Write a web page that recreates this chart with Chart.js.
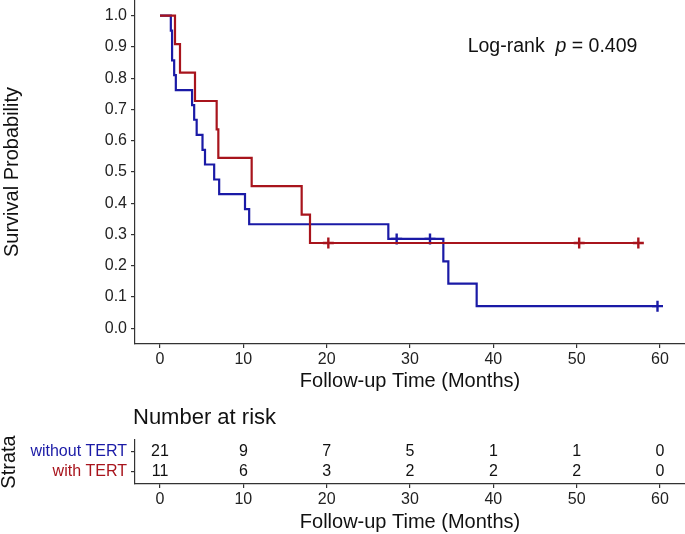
<!DOCTYPE html>
<html>
<head>
<meta charset="utf-8">
<script src="https://cdn.jsdelivr.net/npm/chart.js@4"></script>
<style>
  body { margin: 0; background: #fff; }
  canvas { position: absolute; left: 0; }
  #km { top: 0; }
  #risk { top: 400px; }
</style>
</head>
<body>
<canvas id="km" width="685" height="400"></canvas>
<canvas id="risk" width="685" height="134"></canvas>
<script>
// KM steps: time (months) at which the curve drops, and survival after the drop
const withoutTime = [0, 1.3, 1.45, 1.7, 1.9, 3.85, 4.1, 4.4, 5.1, 5.4, 6.5, 7.1, 10.2, 10.7, 27.4, 34.0, 34.6, 38.0, 59.7];
const withoutSurv = [1.0, 0.952, 0.857, 0.810, 0.762, 0.714, 0.667, 0.619, 0.571, 0.524, 0.476, 0.429, 0.381, 0.333, 0.286, 0.214, 0.143, 0.071, 0.071];
const withTime = [0, 1.8, 2.4, 4.2, 6.8, 7.0, 11.0, 17.0, 18.0, 57.4];
const withSurv = [1.0, 0.909, 0.818, 0.727, 0.636, 0.545, 0.455, 0.364, 0.273, 0.273];

// censored observations (+ marks)
const withoutCensTime = [28.4, 32.4, 59.7];
const withoutCensSurv = [0.286, 0.286, 0.071];
const withCensTime = [20.2, 50.3, 57.4];
const withCensSurv = [0.273, 0.273, 0.273];

// number at risk table
const strata = ["without TERT", "with TERT"];
const riskTimes = [0, 10, 20, 30, 40, 50, 60];
const riskWithout = [21, 9, 7, 5, 1, 1, 0];
const riskWith = [11, 6, 3, 2, 2, 2, 0];

const xTicks = [0, 10, 20, 30, 40, 50, 60];
const yTicks = [0, 0.1, 0.2, 0.3, 0.4, 0.5, 0.6, 0.7, 0.8, 0.9, 1.0];
const pValue = "0.409";

const BLUE = "#1a1aa6";
const RED = "#a8141c";
const AXIS = "#333333";
const FONT = "'Liberation Sans', Arial, sans-serif";

const pts = (xs, ys) => xs.map((x, i) => ({ x: x, y: ys[i] }));

const axisBase = {
  border: { display: true, color: AXIS, width: 1.2 },
  grid: { drawOnChartArea: false, drawTicks: true, tickLength: 4, color: AXIS, lineWidth: 1.2 },
};

// keep the plot area flush with the canvas edges (no room reserved for overhanging labels)
const noPad = s => { s.paddingTop = 0; s.paddingBottom = 0; s.paddingLeft = 0; s.paddingRight = 0; };

const annotation = {
  id: "logrank",
  afterDraw(chart) {
    const { ctx, scales } = chart;
    const cx = scales.x.getPixelForValue(47.1);
    const cy = scales.y.getPixelForValue(0.9);
    ctx.save();
    ctx.fillStyle = "#111";
    ctx.textBaseline = "middle";
    const size = "19.5px ";
    const parts = [
      { t: "Log-rank  ", f: size + FONT },
      { t: "p", f: "italic " + size + FONT },
      { t: " = " + pValue, f: size + FONT },
    ];
    let w = 0;
    parts.forEach(p => { ctx.font = p.f; w += ctx.measureText(p.t).width; });
    let x = cx - w / 2;
    parts.forEach(p => {
      ctx.font = p.f;
      ctx.fillText(p.t, x, cy);
      x += ctx.measureText(p.t).width;
    });
    ctx.restore();
  }
};

new Chart(document.getElementById("km"), {
  type: "scatter",
  data: {
    datasets: [
      { data: pts(withTime, withSurv), showLine: true, stepped: true, borderColor: RED, borderWidth: 2.2, pointRadius: 0, fill: false },
      { data: pts(withCensTime, withCensSurv), pointStyle: "cross", pointRadius: 5.5, borderColor: RED, borderWidth: 2.4 },
      { data: pts(withoutTime, withoutSurv), showLine: true, stepped: true, borderColor: BLUE, borderWidth: 2.2, pointRadius: 0, fill: false },
      { data: pts(withoutCensTime, withoutCensSurv), pointStyle: "cross", pointRadius: 5.5, borderColor: BLUE, borderWidth: 2.4 },
    ]
  },
  options: {
    responsive: false,
    animation: false,
    layout: { padding: 0, autoPadding: false },
    plugins: { legend: { display: false }, tooltip: { enabled: false } },
    scales: {
      x: {
        ...axisBase,
        type: "linear", min: -3, max: 63,
        afterBuildTicks: s => { s.ticks = xTicks.map(v => ({ value: v })); },
        afterFit: s => { s.height = 56; noPad(s); },
        ticks: { color: "#222", font: { family: FONT, size: 16 }, padding: 2, maxRotation: 0 },
        title: { display: true, text: "Follow-up Time (Months)", color: "#111", font: { family: FONT, size: 20 }, padding: { top: 0, bottom: 7 } }
      },
      y: {
        ...axisBase,
        type: "linear", min: -0.05, max: 1.05,
        afterBuildTicks: s => { s.ticks = yTicks.map(v => ({ value: v })); },
        afterFit: s => { s.width = 135; noPad(s); },
        ticks: { color: "#222", font: { family: FONT, size: 16 }, padding: 4, callback: v => v.toFixed(1) },
        title: { display: true, text: "Survival Probability", color: "#111", font: { family: FONT, size: 20 }, padding: 0 }
      }
    }
  },
  plugins: [annotation]
});

const riskText = {
  id: "riskText",
  afterDatasetsDraw(chart) {
    const { ctx, chartArea } = chart;
    ctx.save();
    ctx.fillStyle = "#111";
    ctx.textAlign = "center";
    ctx.textBaseline = "middle";
    ctx.font = "16px " + FONT;
    chart.data.datasets.forEach((ds, di) => {
      chart.getDatasetMeta(di).data.forEach((el, i) => {
        ctx.fillText(String(ds.counts[i]), el.x, el.y);
      });
    });
    ctx.textAlign = "left";
    ctx.font = "22px " + FONT;
    ctx.fillText("Number at risk", chartArea.left - 2, 18);
    ctx.restore();
  }
};

new Chart(document.getElementById("risk"), {
  type: "scatter",
  data: {
    datasets: [
      { data: riskTimes.map(t => ({ x: t, y: 1 })), counts: riskWithout, pointRadius: 0 },
      { data: riskTimes.map(t => ({ x: t, y: 2 })), counts: riskWith, pointRadius: 0 },
    ]
  },
  options: {
    responsive: false,
    animation: false,
    layout: { padding: { top: 40, left: 0, right: 0, bottom: 0 }, autoPadding: false },
    plugins: { legend: { display: false }, tooltip: { enabled: false } },
    scales: {
      x: {
        ...axisBase,
        type: "linear", min: -3, max: 63,
        afterBuildTicks: s => { s.ticks = xTicks.map(v => ({ value: v })); },
        afterFit: s => { s.height = 50; noPad(s); },
        ticks: { color: "#222", font: { family: FONT, size: 16 }, padding: 2, maxRotation: 0 },
        title: { display: true, text: "Follow-up Time (Months)", color: "#111", font: { family: FONT, size: 20 }, padding: { top: 0, bottom: 0 } }
      },
      y: {
        ...axisBase,
        type: "linear", min: 0.4, max: 2.6, reverse: true,
        afterBuildTicks: s => { s.ticks = [1, 2].map(v => ({ value: v })); },
        afterFit: s => { s.width = 135; noPad(s); },
        ticks: {
          font: { family: FONT, size: 16 }, padding: 4,
          color: c => [BLUE, RED][c.index],
          callback: v => strata[v - 1]
        },
        title: { display: true, text: "Strata", color: "#111", font: { family: FONT, size: 20 }, padding: { top: -3, bottom: 0 } }
      }
    }
  },
  plugins: [riskText]
});
</script>
</body>
</html>
